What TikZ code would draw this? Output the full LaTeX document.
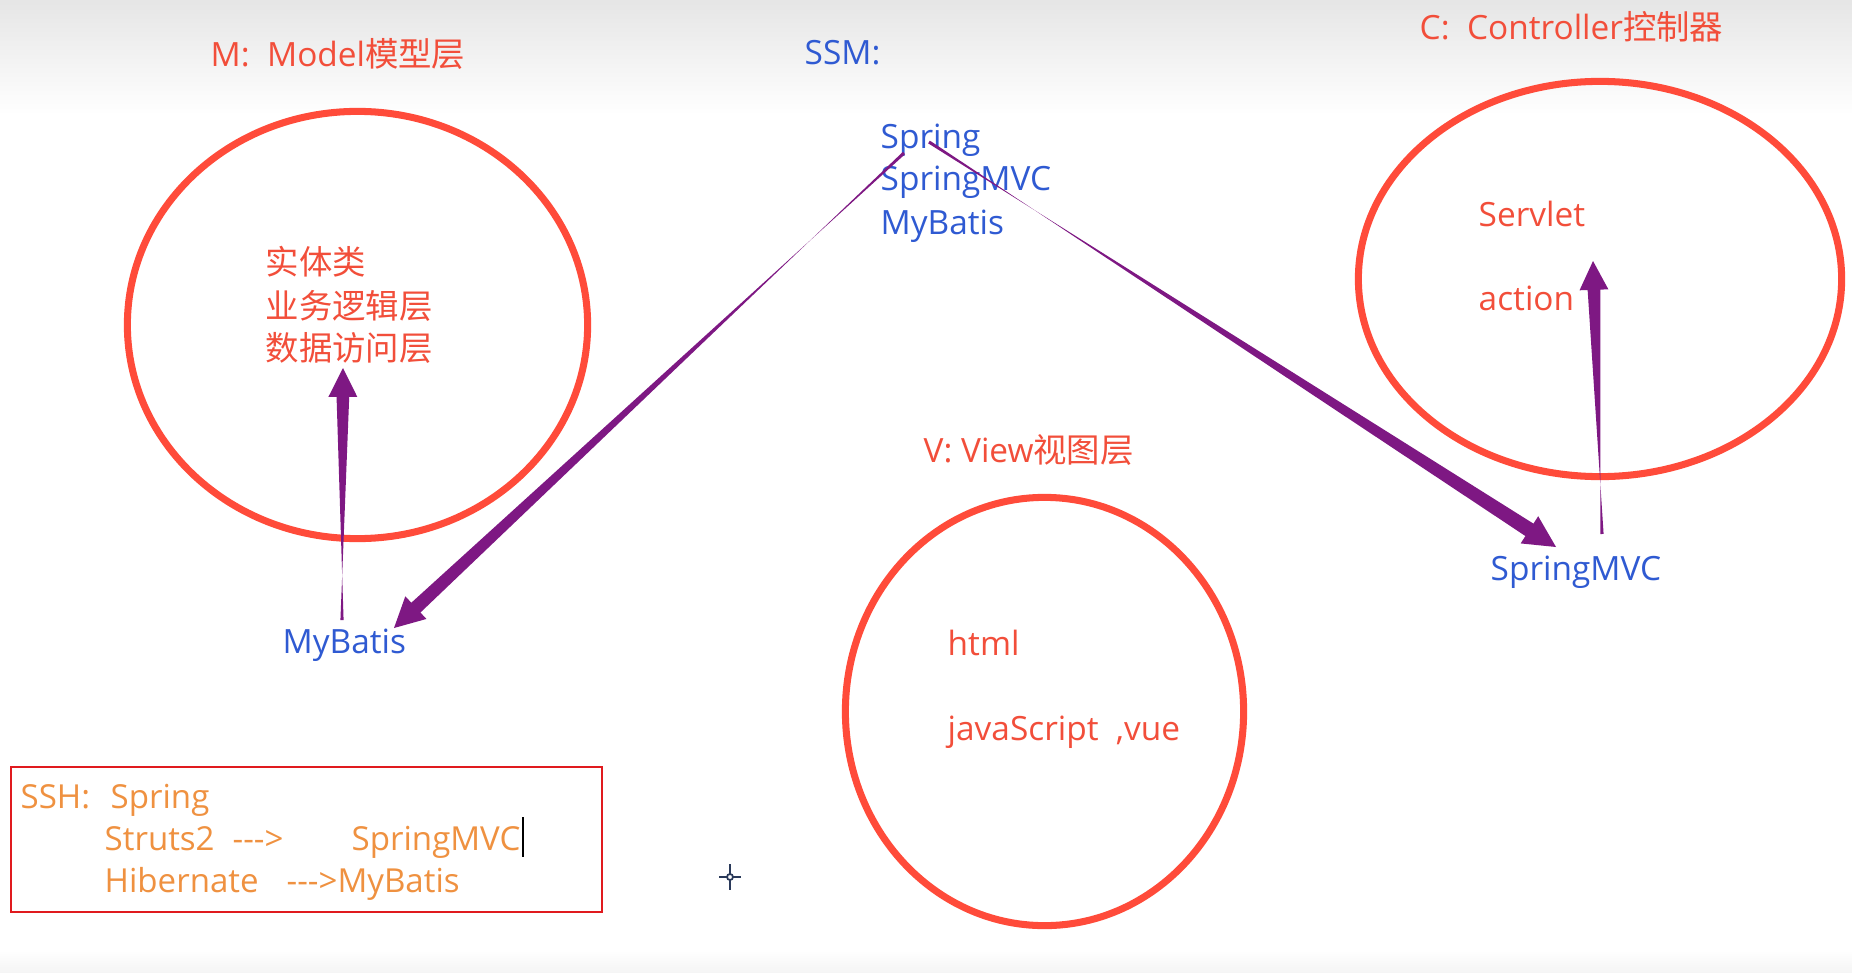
\documentclass[tikz,border=0pt]{standalone}
\usepackage{fontspec}
\setmainfont{Open Sans}
\newfontfamily\cjk{Noto Sans CJK SC}
\usetikzlibrary{calc,shapes.geometric}
\definecolor{ellred}{HTML}{FF4B3A}
\definecolor{txtred}{HTML}{F24E3A}
\definecolor{txtblue}{HTML}{2F5AD2}
\definecolor{arrowpurple}{HTML}{7E1883}
\definecolor{txtorange}{HTML}{EF9140}
\definecolor{boxred}{HTML}{E01A1E}
\definecolor{cursorcol}{HTML}{2A3A5A}
% tapered arrow: #1 tail, #2 tip, #3 shaft half width at head, #4 head length, #5 head half width
\newcommand\taperarrow[5]{%
  \coordinate (tmpC) at ($(#2)!#4!(#1)$);
  \fill[arrowfill] ($(#1)!0.45pt!90:(#2)$)
    -- ($(tmpC)!#3!-90:(#2)$)
    -- ($(tmpC)!#5!-90:(#2)$)
    -- (#2)
    -- ($(tmpC)!#5!90:(#2)$)
    -- ($(tmpC)!#3!90:(#2)$)
    -- ($(#1)!0.45pt!-90:(#2)$) -- cycle;}
\begin{document}
\begin{tikzpicture}[x=0.01cm,y=-0.01cm,
  base/.style={inner sep=0pt, anchor=base west, font=\fontsize{9.5}{12}\selectfont},
  rtxt/.style={base, text=txtred},
  btxt/.style={base, text=txtblue},
  otxt/.style={base, text=txtorange, font=\fontsize{9.4}{12}\selectfont},
  ell/.style={ellipse, draw=ellred, line width=2pt, inner sep=0pt},
  arrowfill/.style={fill=arrowpurple}]
\useasboundingbox (0,0) rectangle (1852,973);
\fill[white] (0,0) rectangle (1852,973);
\shade[top color=black!10, bottom color=white] (0,0) rectangle (1852,115);
\shade[top color=white, bottom color=black!4] (0,950) rectangle (1852,973);

% titles
\node[rtxt] (mtitle) at (210,67) {M:\ \ Model\cjk{模型层}};
\node[btxt] (ssm) at (804,65) {SSM:};
\node[rtxt] (ctitle) at (1419,40) {C:\ \ Controller\cjk{控制器}};
\node[rtxt] (vtitle) at (923,462) {V: View\cjk{视图层}};

% ellipses
\node[ell, minimum width=4.60cm, minimum height=4.27cm] (mell) at (357.5,325) {};
\node[ell, minimum width=4.83cm, minimum height=3.95cm] (cell) at (1600,279) {};
\node[ell, minimum width=3.98cm, minimum height=4.28cm] (vell) at (1044.5,711.5) {};

% SSM list
\node[btxt] (sspring) at (880,149) {Spring};
\node[btxt] (smvc) at (880,191) {SpringMVC};
\node[btxt] (smyb) at (880,234) {MyBatis};

% model contents
\node[rtxt, font=\fontsize{9.5}{12}\selectfont\cjk] (m1) at (265,274) {实体类};
\node[rtxt, font=\fontsize{9.5}{12}\selectfont\cjk] (m2) at (265,318) {业务逻辑层};
\node[rtxt, font=\fontsize{9.5}{12}\selectfont\cjk] (m3) at (265,360) {数据访问层};

% controller contents
\node[rtxt] (servlet) at (1478,226) {Servlet};
\node[rtxt] (action) at (1478,310) {action};

% view contents
\node[rtxt] (html) at (947,655) {html};
\node[rtxt] (js) at (947,740) {javaScript\ \ ,vue};

% framework labels
\node[btxt] (rmvc) at (1490,580) {SpringMVC};
\node[btxt] (lmyb) at (282,653) {MyBatis};

% arrows
\coordinate (a1s) at (904,153);
\coordinate (a1e) at (394,628);
\coordinate (a2s) at (929,142);
\coordinate (a2e) at (1556,547);
\coordinate (a3s) at (342,620);
\coordinate (a3e) at (343,368);
\coordinate (a4s) at (1602,534);
\coordinate (a4e) at (1593,261);
\taperarrow{a1s}{a1e}{1.9pt}{8.5pt}{4.4pt}
\taperarrow{a2s}{a2e}{2.1pt}{9pt}{4.6pt}
\taperarrow{a3s}{a3e}{1.8pt}{8.2pt}{4.1pt}
\taperarrow{a4s}{a4e}{1.8pt}{8.2pt}{4.1pt}

% SSH box
\node[draw=boxred, line width=0.7pt, minimum width=5.91cm, minimum height=1.45cm, inner sep=0pt] (sshbox) at (306.5,839.5) {};
\node[otxt] (ssh) at (20,808) {SSH:};
\node[otxt] (ssp) at (110,808) {Spring};
\node[otxt] (struts) at (104,850) {Struts2};
\node[otxt] (arr1) at (232,850) {-{}-{}->};
\node[otxt] (bmvc) at (351,850) {SpringMVC};
\node[otxt] (hib) at (104,892) {Hibernate};
\node[otxt] (arr2) at (286,892) {-{}-{}->MyBatis};
\coordinate (cur1) at (523,817);
\coordinate (cur2) at (523,857);
\draw[black, line width=0.4pt] (cur1) -- (cur2);

% mouse cursor
\coordinate (mc) at (730,877);
\draw[cursorcol, line width=0.5pt] ($(mc)+(-11,0)$) -- ($(mc)+(-3,0)$) ($(mc)+(3,0)$) -- ($(mc)+(11,0)$)
  ($(mc)+(0,-13)$) -- ($(mc)+(0,-3)$) ($(mc)+(0,3)$) -- ($(mc)+(0,13)$);
\draw[cursorcol, line width=0.5pt] (mc) circle [radius=0.03cm];
\end{tikzpicture}
\end{document}
